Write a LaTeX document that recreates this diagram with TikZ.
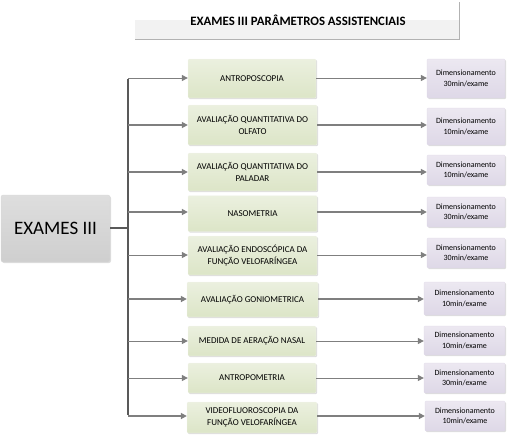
\documentclass[tikz,border=0pt]{standalone}
\usepackage{fontspec}
\setmainfont{Carlito}
\usetikzlibrary{arrows.meta,shadows}
\definecolor{gfill}{HTML}{E3EAD2}
\definecolor{gtop}{HTML}{EBF0DF}
\definecolor{gbot}{HTML}{DCE5C7}
\definecolor{pfill}{HTML}{E5E0EC}
\definecolor{ptop}{HTML}{ECE8F1}
\definecolor{pbot}{HTML}{DED8E7}
\definecolor{mfill}{HTML}{D3D3D3}
\definecolor{lnc}{HTML}{7F7F7F}
\definecolor{trc}{HTML}{595959}
\begin{document}
\begin{tikzpicture}[x=1pt,y=-1pt,
  sh/.style={drop shadow={shadow xshift=1pt,shadow yshift=-1pt,fill=black!22,opacity=0.6}},
  gbox/.style={sh,rounded corners=1pt,top color=gtop,bottom color=gbot,draw=gbot!90!black!20,line width=0.3pt,inner sep=0pt,align=center,font=\fontsize{9}{12}\selectfont},
  pbox/.style={sh,rounded corners=1pt,top color=ptop,bottom color=pbot,draw=pbot,line width=0.3pt,inner sep=0pt,align=center,font=\fontsize{8}{10.5}\selectfont},
  thin/.style={draw=lnc,line width=1pt},
  thick/.style={draw=lnc,line width=1.8pt},
  arr/.style={-{Triangle[length=6pt,width=6pt]}}
]
\useasboundingbox (0,0) rectangle (510,437);
% title
\fill[black!5] (135,20) rectangle (459,39);
\draw[black!30,line width=0.8pt] (135,39) -- (459,39) -- (459,2);
\node[font=\bfseries\fontsize{12.8}{14}\selectfont] (title) at (298,20) {EXAMES III PARÂMETROS ASSISTENCIAIS};
% main
\node[sh,rounded corners=2pt,top color=black!13,bottom color=black!19,draw=black!15,line width=0.3pt,minimum width=109pt,minimum height=67pt,inner sep=0pt,font=\fontsize{19}{22}\selectfont] (main) at (55.5,228.5) {EXAMES III};
% green boxes
\node[gbox,minimum width=128pt,minimum height=39pt] (g1) at (252,78.5) {ANTROPOSCOPIA};
\node[gbox,minimum width=129pt,minimum height=40pt] (g2) at (252.5,125) {AVALIAÇÃO QUANTITATIVA DO\\OLFATO};
\node[gbox,minimum width=129pt,minimum height=38pt] (g3) at (252.5,172) {AVALIAÇÃO QUANTITATIVA DO\\PALADAR};
\node[gbox,minimum width=129pt,minimum height=36pt] (g4) at (252.5,213.5) {NASOMETRIA};
\node[gbox,minimum width=129pt,minimum height=39pt] (g5) at (252.5,255.5) {AVALIAÇÃO ENDOSCÓPICA DA\\FUNÇÃO VELOFARÍNGEA};
\node[gbox,minimum width=131pt,minimum height=35pt] (g6) at (252.5,299.5) {AVALIAÇÃO GONIOMETRICA};
\node[gbox,minimum width=128pt,minimum height=30pt] (g7) at (252,341) {MEDIDA DE AERAÇÃO NASAL};
\node[gbox,minimum width=128pt,minimum height=30pt] (g8) at (252,378) {ANTROPOMETRIA};
\node[gbox,minimum width=130pt,minimum height=31pt] (g9) at (252,417.5) {VIDEOFLUOROSCOPIA DA\\FUNÇÃO VELOFARÍNGEA};
% purple boxes
\node[pbox,minimum width=78pt,minimum height=39pt] (p1) at (466,78.5) {Dimensionamento\\30min/exame};
\node[pbox,minimum width=78pt,minimum height=37pt] (p2) at (466,126.5) {Dimensionamento\\10min/exame};
\node[pbox,minimum width=78pt,minimum height=30pt] (p3) at (466,170) {Dimensionamento\\10min/exame};
\node[pbox,minimum width=78pt,minimum height=30pt] (p4) at (466,212) {Dimensionamento\\30min/exame};
\node[pbox,minimum width=78pt,minimum height=30pt] (p5) at (466,253) {Dimensionamento\\30min/exame};
\node[pbox,minimum width=81pt,minimum height=33pt] (p6) at (464.5,298.5) {Dimensionamento\\10min/exame};
\node[pbox,minimum width=81pt,minimum height=29pt] (p7) at (464.5,340.5) {Dimensionamento\\10min/exame};
\node[pbox,minimum width=81pt,minimum height=30pt] (p8) at (464.5,378) {Dimensionamento\\30min/exame};
\node[pbox,minimum width=80pt,minimum height=30pt] (p9) at (465,416) {Dimensionamento\\10min/exame};
% trunk coordinates
\coordinate (t0) at (128,228);
\coordinate (t1) at (128,78);
\coordinate (t2) at (128,125);
\coordinate (t3) at (128,172);
\coordinate (t4) at (128,212);
\coordinate (t5) at (128,255);
\coordinate (t6) at (128,299);
\coordinate (t7) at (128,341);
\coordinate (t8) at (128,378);
\coordinate (t9) at (128,416);
\draw[draw=trc,line width=1.6pt] ([yshift=-0.8pt]t1) -- ([yshift=0.8pt]t9);
\draw[draw=trc,line width=1.6pt] (main.east |- t0) -- (t0);
% branches
\draw[thin,arr] (t1) -- (g1.west |- t1);
\draw[thick,arr] (t2) -- (g2.west |- t2);
\draw[thick,arr] (t3) -- (g3.west |- t3);
\draw[thick,arr] (t4) -- (g4.west |- t4);
\draw[thin,arr] (t5) -- (g5.west |- t5);
\draw[thick,arr] (t6) -- (g6.west |- t6);
\draw[thin,arr] (t7) -- (g7.west |- t7);
\draw[thin,arr] (t8) -- (g8.west |- t8);
\draw[thick,arr] (t9) -- (g9.west |- t9);
% to purple
\draw[thin,arr] (g1.east |- t1) -- (p1.west |- t1);
\draw[thick,arr] (g2.east |- t2) -- (p2.west |- t2);
\draw[thick,arr] (g3.east |- t3) -- (p3.west |- t3);
\draw[thick,arr] (g4.east |- t4) -- (p4.west |- t4);
\draw[thin,arr] (g5.east |- t5) -- (p5.west |- t5);
\draw[thick,arr] (g6.east |- t6) -- (p6.west |- t6);
\draw[thin,arr] (g7.east |- t7) -- (p7.west |- t7);
\draw[thin,arr] (g8.east |- t8) -- (p8.west |- t8);
\draw[thick,arr] (g9.east |- t9) -- (p9.west |- t9);
\end{tikzpicture}
\end{document}
